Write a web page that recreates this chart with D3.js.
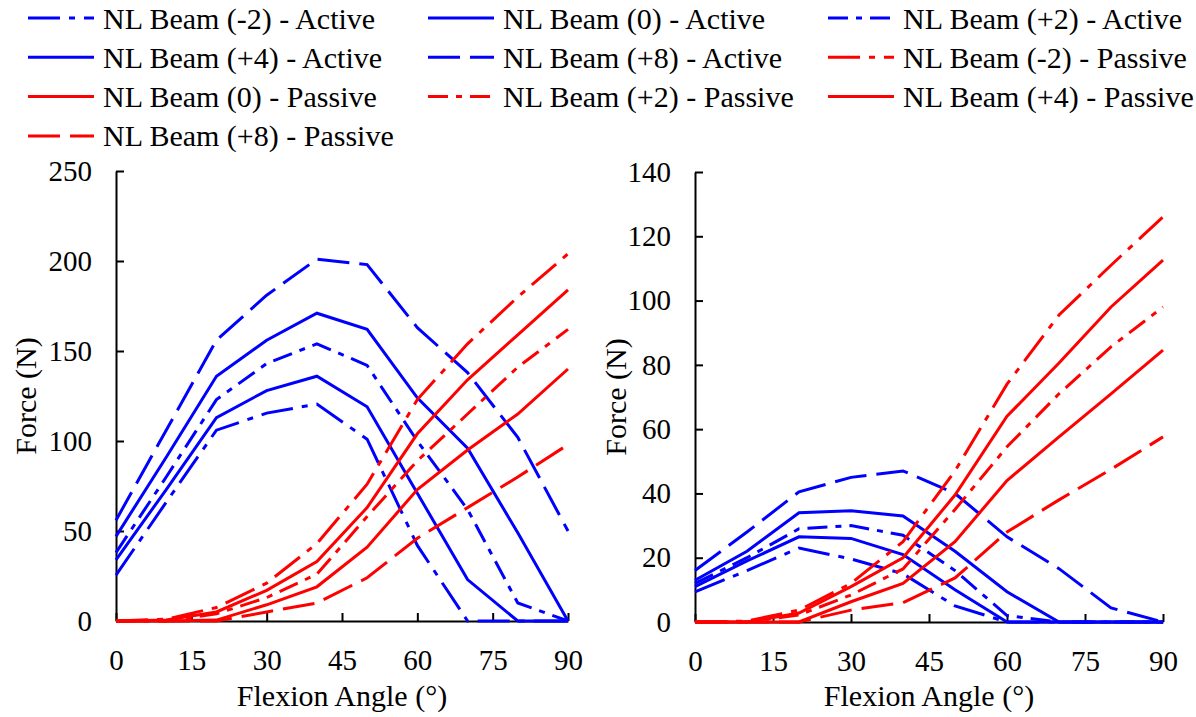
<!DOCTYPE html>
<html>
<head>
<meta charset="utf-8">
<script src="https://cdn.jsdelivr.net/npm/d3@7"></script>
<style>
  body { margin: 0; background: #fff; }
</style>
</head>
<body>
<div id="vis"></div>
<script>
// flexion angles (deg) where every curve was sampled
const ANGLES = [0, 10, 20, 30, 40, 50, 60, 70, 80, 90];

// left chart, force (N)
const L_M2_ACTIVE = [25.5, 66, 106, 115.5, 120.5, 101, 42, 0, 0, 0];
const L_0_ACTIVE = [47, 91, 136, 156, 171, 162, 124, 96, 49, 0];
const L_P2_ACTIVE = [38, 80, 123, 143, 154, 142, 100, 62, 10, 0];
const L_P4_ACTIVE = [34, 73, 113, 128, 136, 119, 71, 23, 0, 0];
const L_P8_ACTIVE = [56, 106, 156, 181, 201, 198, 163, 138, 102, 50];
const L_M2_PASSIVE = [0, 1, 7.5, 21, 43, 76, 123, 154, 180, 204];
const L_0_PASSIVE = [0, 0.5, 5, 17, 33, 63, 104, 134, 159, 184];
const L_P2_PASSIVE = [0, 0, 4, 13, 26, 58, 89, 115, 141, 162];
const L_P4_PASSIVE = [0, 0, 0.5, 9, 19, 41, 73, 95, 115, 140];
const L_P8_PASSIVE = [0, 0, 0, 5, 10, 24, 46, 63, 80, 98];

// right chart, force (N)
const R_M2_ACTIVE = [9.4, 16, 23, 19.6, 15, 5, 0, 0, 0, 0];
const R_0_ACTIVE = [13, 22, 34, 34.6, 33, 22, 9.4, 0, 0, 0];
const R_P2_ACTIVE = [12, 20, 29, 30, 27, 16, 2, 0, 0, 0];
const R_P4_ACTIVE = [11, 19, 26.5, 26, 21, 10, 0, 0, 0, 0];
const R_P8_ACTIVE = [16, 28, 40.5, 45, 47, 40, 26.5, 16.6, 4.4, 0];
const R_M2_PASSIVE = [0, 0.3, 3.7, 12, 25, 47, 74, 95.5, 111, 126];
const R_0_PASSIVE = [0, 0, 2.8, 11, 20, 39.5, 64, 80.6, 98, 112.6];
const R_P2_PASSIVE = [0, 0, 2.2, 8.4, 16.5, 35, 54.5, 71, 85.6, 98];
const R_P4_PASSIVE = [0, 0, 0, 6.3, 12, 25, 44, 57.6, 71, 84.6];
const R_P8_PASSIVE = [0, 0, 0, 3.7, 6, 13.7, 28, 38, 47.5, 57.6];

const X_TICKS = [0, 15, 30, 45, 60, 75, 90];
const L_Y_TICKS = [0, 50, 100, 150, 200, 250];
const R_Y_TICKS = [0, 20, 40, 60, 80, 100, 120, 140];

const BLUE = "#0000ff";
const RED = "#ff0000";
// dash style per beam offset
const DASH = {
  "-2": "32,9,6,9",
  "0": null,
  "+2": "20,8,6,8",
  "+4": null,
  "+8": "32,10"
};

// legend order (row by row)
const SERIES = [
  {label: "NL Beam (-2) - Active", beam: "-2", color: BLUE, left: L_M2_ACTIVE, right: R_M2_ACTIVE},
  {label: "NL Beam (0) - Active", beam: "0", color: BLUE, left: L_0_ACTIVE, right: R_0_ACTIVE},
  {label: "NL Beam (+2) - Active", beam: "+2", color: BLUE, left: L_P2_ACTIVE, right: R_P2_ACTIVE},
  {label: "NL Beam (+4) - Active", beam: "+4", color: BLUE, left: L_P4_ACTIVE, right: R_P4_ACTIVE},
  {label: "NL Beam (+8) - Active", beam: "+8", color: BLUE, left: L_P8_ACTIVE, right: R_P8_ACTIVE},
  {label: "NL Beam (-2) - Passive", beam: "-2", color: RED, left: L_M2_PASSIVE, right: R_M2_PASSIVE},
  {label: "NL Beam (0) - Passive", beam: "0", color: RED, left: L_0_PASSIVE, right: R_0_PASSIVE},
  {label: "NL Beam (+2) - Passive", beam: "+2", color: RED, left: L_P2_PASSIVE, right: R_P2_PASSIVE},
  {label: "NL Beam (+4) - Passive", beam: "+4", color: RED, left: L_P4_PASSIVE, right: R_P4_PASSIVE},
  {label: "NL Beam (+8) - Passive", beam: "+8", color: RED, left: L_P8_PASSIVE, right: R_P8_PASSIVE}
];

const FRAME_WIDTH = 1196;
const FRAME_HEIGHT = 717;
const FONT = 30;       // legend + titles
const TICK_FONT = 29;  // axis numbers
const FONT_FAMILY = "'Liberation Serif'";
const LINE_W = 3;

const SVG = d3.select("#vis")
  .append("svg")
    .attr("width", FRAME_WIDTH)
    .attr("height", FRAME_HEIGHT);

// the two panels
const PANELS = [
  {key: "left", x0: 116, x1: 568, y0: 621, y1: 171, yMax: 250, yTicks: L_Y_TICKS, yLabelX: 25},
  {key: "right", x0: 695, x1: 1163, y0: 622, y1: 172, yMax: 140, yTicks: R_Y_TICKS, yLabelX: 615}
];

PANELS.forEach((p) => {
  const X_SCALE = d3.scaleLinear().domain([0, 90]).range([p.x0, p.x1]);
  const Y_SCALE = d3.scaleLinear().domain([0, p.yMax]).range([p.y0, p.y1]);

  const line = d3.line()
    .x((d, i) => X_SCALE(ANGLES[i]))
    .y((d) => Y_SCALE(d));

  // x axis, ticks point inward
  const xAxis = SVG.append("g")
    .attr("transform", "translate(0," + p.y0 + ")")
    .call(d3.axisBottom(X_SCALE).tickValues(X_TICKS).tickSizeInner(-8).tickSizeOuter(0).tickPadding(28));

  // y axis
  const yAxis = SVG.append("g")
    .attr("transform", "translate(" + p.x0 + ",0)")
    .call(d3.axisLeft(Y_SCALE).tickValues(p.yTicks).tickSizeInner(-8).tickSizeOuter(0).tickPadding(24));

  [xAxis, yAxis].forEach((a) => {
    a.selectAll("path, line").attr("stroke", "#000").attr("stroke-width", 2);
    a.selectAll("text")
      .attr("fill", "#000")
      .style("font-family", FONT_FAMILY)
      .style("font-size", TICK_FONT + "px");
  });

  // curves
  SVG.append("g")
    .selectAll("path")
    .data(SERIES)
    .enter()
    .append("path")
      .attr("d", (d) => line(d[p.key]))
      .attr("fill", "none")
      .attr("stroke", (d) => d.color)
      .attr("stroke-width", LINE_W)
      .attr("stroke-dasharray", (d) => DASH[d.beam]);

  // axis titles
  SVG.append("text")
    .attr("x", (p.x0 + p.x1) / 2)
    .attr("y", 706)
    .attr("text-anchor", "middle")
    .style("font-family", FONT_FAMILY)
    .style("font-size", FONT + "px")
    .text("Flexion Angle (°)");

  SVG.append("text")
    .attr("transform", "translate(" + p.yLabelX + "," + ((p.y0 + p.y1) / 2) + ") rotate(-90)")
    .attr("dy", "0.35em")
    .attr("text-anchor", "middle")
    .style("font-family", FONT_FAMILY)
    .style("font-size", FONT + "px")
    .text("Force (N)");
});

// legend, 3 columns
const LEGEND = SVG.append("g")
  .selectAll("g")
  .data(SERIES)
  .enter()
  .append("g")
    .attr("transform", (d, i) => "translate(" + (28 + 400 * (i % 3)) + "," + (18 + 39.3 * Math.floor(i / 3)) + ")");

LEGEND.append("line")
  .attr("x1", 0)
  .attr("x2", 66)
  .attr("stroke", (d) => d.color)
  .attr("stroke-width", LINE_W)
  .attr("stroke-dasharray", (d) => DASH[d.beam]);

LEGEND.append("text")
  .attr("x", 75)
  .attr("dy", "0.35em")
  .style("font-family", FONT_FAMILY)
  .style("font-size", FONT + "px")
  .text((d) => d.label);
</script>
</body>
</html>
